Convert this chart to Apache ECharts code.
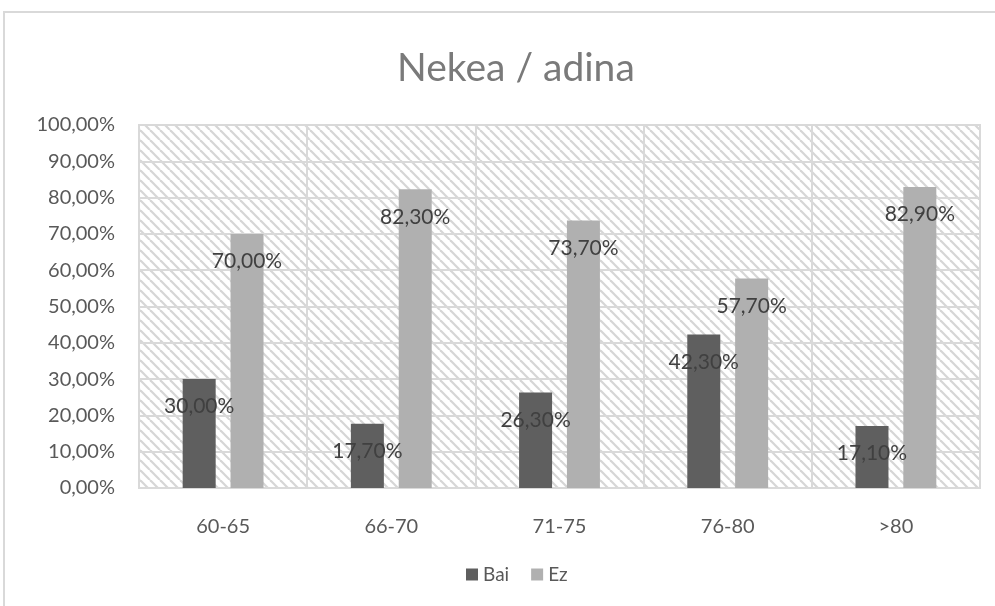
<!DOCTYPE html>
<html>
<head>
<meta charset="utf-8">
<script src="https://cdn.jsdelivr.net/npm/echarts@6/dist/echarts.min.js"></script>
<style>
	html, body {margin: 0; padding: 0; background: #fff;}
	#chart {width: 995px; height: 606px;}
</style>
</head>
<body>
<div id="chart"></div>
<script>
const categories = ['60-65', '66-70', '71-75', '76-80', '>80']
const baiValues = [30.0, 17.7, 26.3, 42.3, 17.1]
const ezValues = [70.0, 82.3, 73.7, 57.7, 82.9]

const fmt = v => v.toFixed(2).replace('.', ',') + '%'

// hatch tile for the plot background
const makeHatch = () => {
	const s = 10
	const c = document.createElement('canvas')
	c.width = s
	c.height = s
	const ctx = c.getContext('2d')
	ctx.fillStyle = '#fff'
	ctx.fillRect(0, 0, s, s)
	ctx.strokeStyle = '#d6d6d6'
	ctx.lineWidth = 2.2
	;[-s, 0, s].forEach(o => {
		ctx.beginPath()
		ctx.moveTo(o, 0)
		ctx.lineTo(o + s, s)
		ctx.stroke()
	})
	return c
}

const chart = echarts.init(document.getElementById('chart'))

const labelStyle = {
	show: true,
	position: 'insideTop',
	distance: 17,
	color: '#404040',
	fontSize: 21,
	fontFamily: 'Lato',
	formatter: p => fmt(p.value)
}

chart.setOption({
	animation: false,
	textStyle: {fontFamily: 'Lato'},
	graphic: [{
		type: 'rect',
		shape: {x: 4, y: 12, width: 1200, height: 900},
		style: {fill: 'none', stroke: '#d9d9d9', lineWidth: 2},
		z: -1
	}],
	title: {
		text: 'Nekea / adina',
		left: 392,
		top: 44,
		textStyle: {color: '#7a7a7a', fontSize: 39, fontWeight: 'normal', fontFamily: 'Lato'}
	},
	legend: {
		bottom: 17,
		left: 461,
		itemWidth: 12,
		itemHeight: 12,
		itemGap: 22,
		icon: 'rect',
		textStyle: {color: '#595959', fontSize: 19, fontFamily: 'Lato'},
		data: ['Bai', 'Ez']
	},
	grid: {
		left: 139,
		right: 15,
		top: 125,
		bottom: 118,
		show: true,
		backgroundColor: {image: makeHatch(), repeat: 'repeat'},
		borderColor: '#d9d9d9',
		borderWidth: 2
	},
	xAxis: {
		type: 'category',
		data: categories,
		axisLine: {show: false},
		axisTick: {show: false},
		axisLabel: {color: '#595959', fontSize: 20, margin: 29},
		splitLine: {show: true, lineStyle: {color: '#d9d9d9', width: 2}}
	},
	yAxis: {
		type: 'value',
		min: 0,
		max: 100,
		interval: 10,
		axisLine: {show: false},
		axisTick: {show: false},
		axisLabel: {color: '#595959', fontSize: 20, margin: 24, formatter: v => fmt(v)},
		splitLine: {lineStyle: {color: '#d9d9d9', width: 2}}
	},
	series: [{
		name: 'Bai',
		type: 'bar',
		data: baiValues,
		barWidth: 33,
		barGap: '45%',
		itemStyle: {color: '#5f5f5f'},
		label: labelStyle
	}, {
		name: 'Ez',
		type: 'bar',
		data: ezValues,
		barWidth: 33,
		barGap: '45%',
		itemStyle: {color: '#b0b0b0'},
		label: labelStyle
	}]
})
</script>
</body>
</html>
